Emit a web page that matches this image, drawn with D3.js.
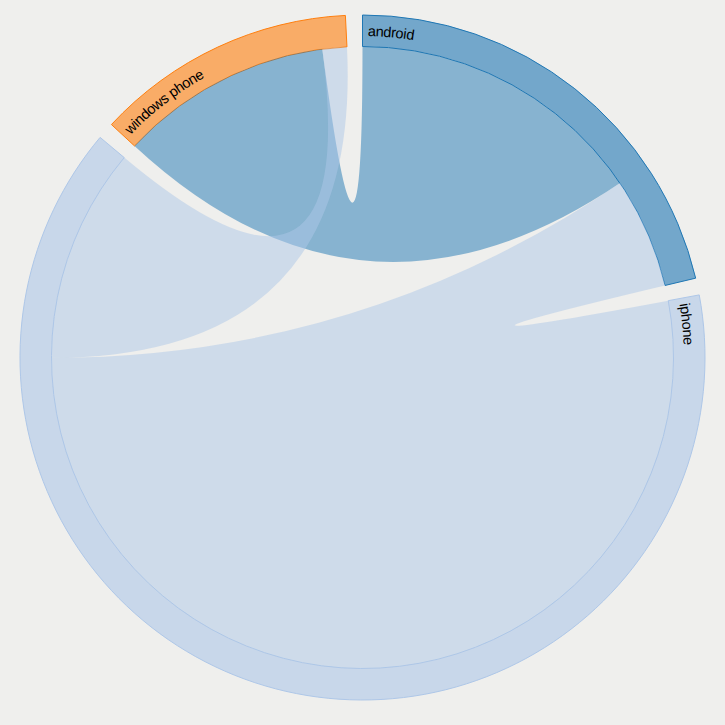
<!DOCTYPE html>
<html>
<head>
<meta charset="utf-8">
<script src="https://cdn.jsdelivr.net/npm/d3@7"></script>
<style>
html, body { margin: 0; padding: 0; background: #efefed; }
svg { display: block; }
.label { font-family: "Liberation Sans", Arial, sans-serif; font-size: 14.5px; fill: #000; }
</style>
</head>
<body>
<svg id="chart" width="725" height="725"></svg>
<script>
// Group names (clockwise from top)
const names = ["android", "iphone", "windows phone"];
// Matrix rows: share moving from each platform to [android, iphone, windows phone]
const fromAndroid = [0, 5.9, 15.9];
const fromIphone = [54.2, 0, 11.4];
const fromWindows = [11.3, 1.3, 0];
const groupColors = ["#1f77b4", "#aec7e8", "#ff7f0e"];

const matrix = [fromAndroid, fromIphone, fromWindows];

const width = 725, height = 725;
const outerRadius = 342.5;
const innerRadius = 311;

const svg = d3.select("#chart");
const g = svg.append("g").attr("transform", "translate(362.5,357.5)");

const chord = d3.chord()
  .padAngle(0.05)
  .sortSubgroups(d3.descending);

const chords = chord(matrix);

const arc = d3.arc().innerRadius(innerRadius).outerRadius(outerRadius);
const ribbon = d3.ribbon().radius(innerRadius);
const color = d3.scaleOrdinal().domain(d3.range(names.length)).range(groupColors);

// Groups
const group = g.append("g").attr("class", "groups")
  .selectAll("g")
  .data(chords.groups)
  .join("g");

group.append("path")
  .attr("id", d => "group" + d.index)
  .attr("d", arc)
  .attr("fill", d => color(d.index))
  .attr("fill-opacity", 0.6)
  .attr("stroke", d => color(d.index))
  .attr("stroke-width", 1);

group.append("text")
  .attr("class", "label")
  .attr("x", 6)
  .attr("dy", 21)
  .append("textPath")
  .attr("href", d => "#group" + d.index)
  .text(d => names[d.index]);

// Chords
g.append("g").attr("class", "chords")
  .selectAll("path")
  .data(chords)
  .join("path")
  .attr("d", ribbon)
  .attr("fill", d => color(d.source.index))
  .attr("fill-opacity", 0.5)
  .attr("stroke", "none");
</script>
</body>
</html>
